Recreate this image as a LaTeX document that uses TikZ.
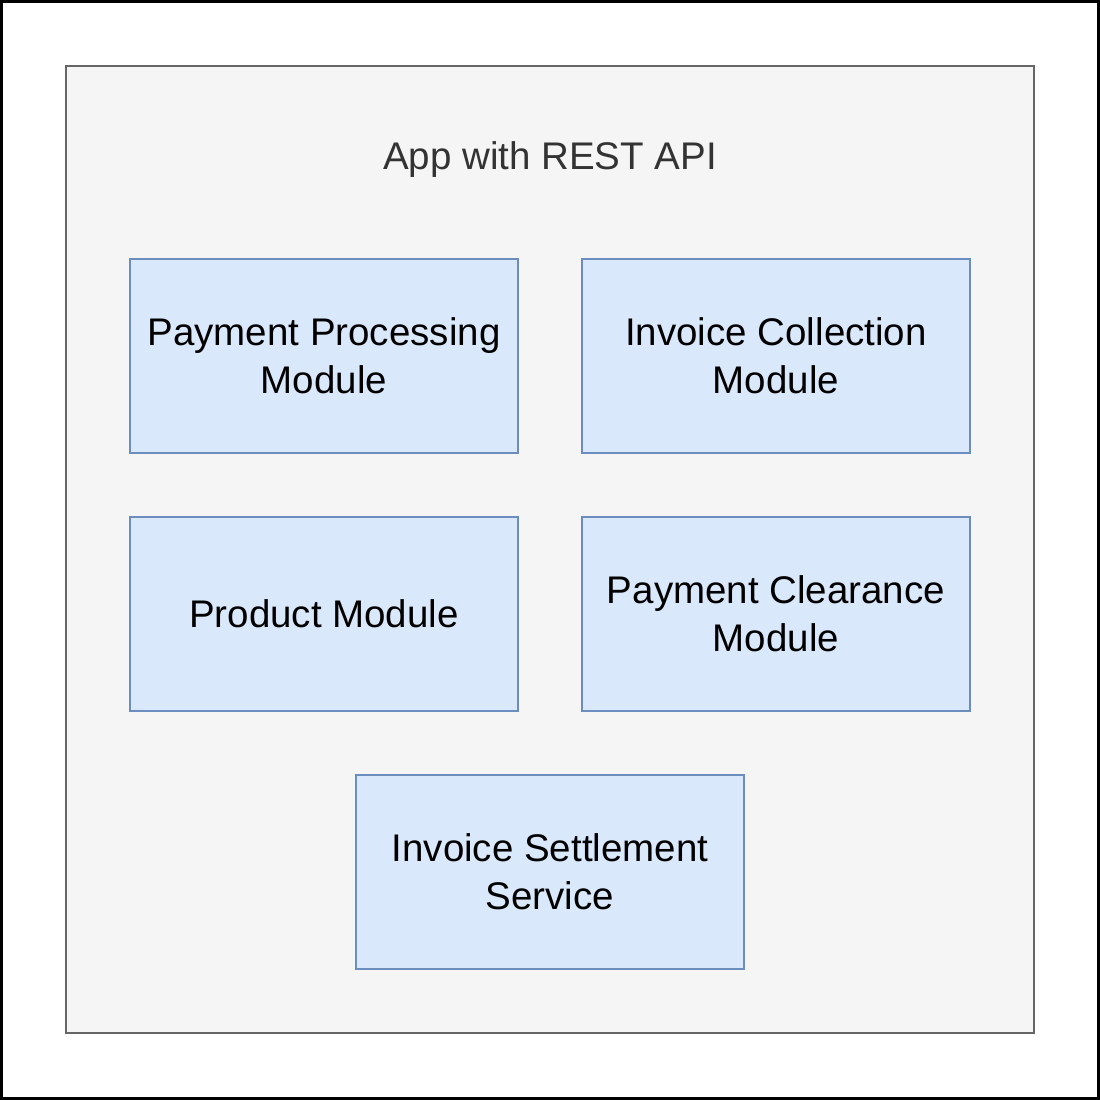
\documentclass[tikz,border=0pt]{standalone}
\usepackage{fontspec}
\setmainfont{Liberation Sans}
\definecolor{appfill}{HTML}{F5F5F5}
\definecolor{appline}{HTML}{666666}
\definecolor{apptext}{HTML}{333333}
\definecolor{modfill}{HTML}{DAE8FC}
\definecolor{modline}{HTML}{6C8EBF}
\begin{document}
\begin{tikzpicture}[x=1bp,y=-1bp,line join=miter,
  module/.style={draw=modline,fill=modfill,line width=2.2bp,rectangle,minimum width=388bp,minimum height=194bp,inner sep=0pt,align=center,font=\fontsize{38.5bp}{48bp}\selectfont}]
%%
\useasboundingbox (0,0) rectangle (1100,1100);
\draw [black,line width=3bp] (1.5,1.5) rectangle (1098.5,1098.5);
  \node (app) at (550,549.5) [draw=appline,fill=appfill,line width=2.6bp,rectangle,minimum width=968bp,minimum height=967bp] {};
  \node (app_title) at (550,160) [text=apptext,font=\fontsize{38.5bp}{48bp}\selectfont] {App with REST API};
  \node (payment_proc) at (324,356) [module] {Payment Processing\\Module};
  \node (invoice_coll) at (776,356) [module] {Invoice Collection\\Module};
  \node (product) at (324,614) [module] {Product Module};
  \node (payment_clear) at (776,614) [module] {Payment Clearance\\Module};
  \node (invoice_settle) at (550,872) [module] {Invoice Settlement\\Service};
%
\end{tikzpicture}
\end{document}
